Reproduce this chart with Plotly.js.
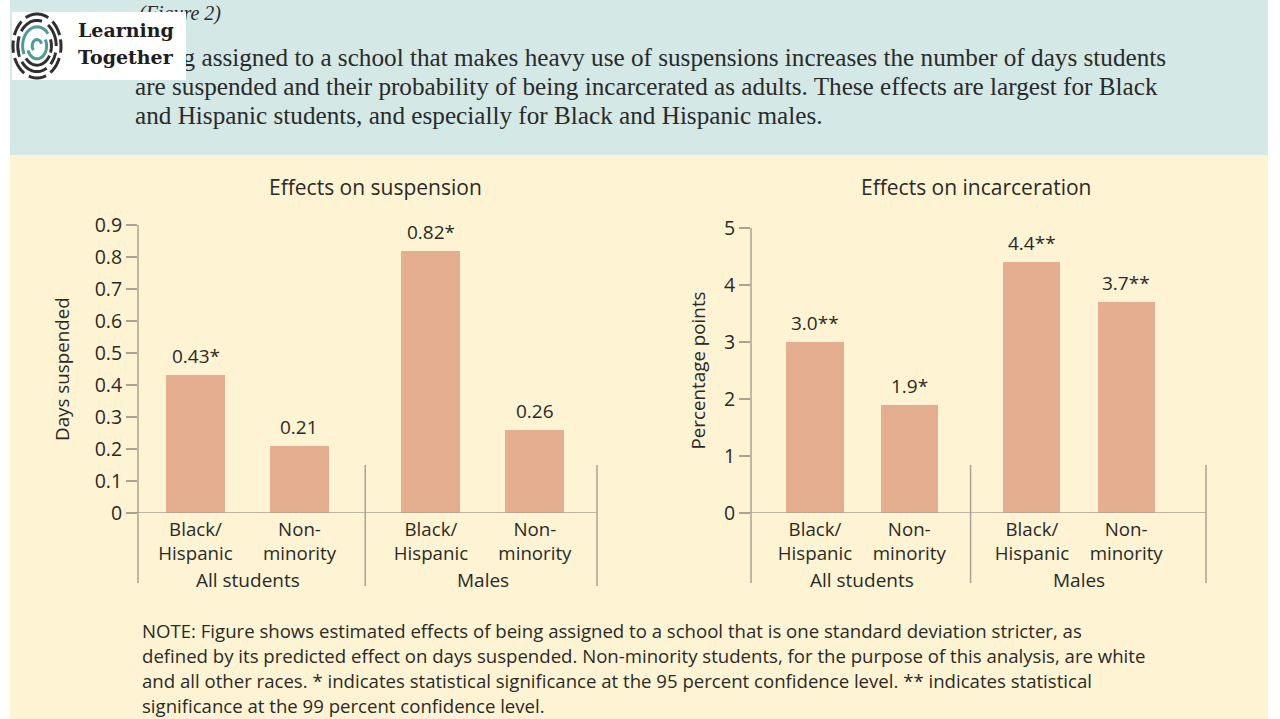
<!DOCTYPE html>
<html><head><meta charset="utf-8">
<script src="https://cdn.plot.ly/plotly-3.0.1.min.js"></script>
<style>html,body{margin:0;padding:0;background:#fff;} #chart{width:1280px;height:719px;}</style>
</head><body><div id="chart"></div>
<script>
// ---------- data ----------
const groups = ["All students", "Males"];
const subgroups = ["Black/<br>Hispanic", "Non-<br>minority"];
const suspensionValues = [0.43, 0.21, 0.82, 0.26];
const suspensionLabels = ["0.43*", "0.21", "0.82*", "0.26"];
const incarcerationValues = [3.0, 1.9, 4.4, 3.7];
const incarcerationLabels = ["3.0**", "1.9*", "4.4**", "3.7**"];
const suspensionTicks = [0, 0.1, 0.2, 0.3, 0.4, 0.5, 0.6, 0.7, 0.8, 0.9];
const suspensionTickText = ["0", "0.1", "0.2", "0.3", "0.4", "0.5", "0.6", "0.7", "0.8", "0.9"];
const incarcerationTicks = [0, 1, 2, 3, 4, 5];
const incarcerationTickText = ["0", "1", "2", "3", "4", "5"];
const chartTitles = ["Effects on suspension", "Effects on incarceration"];
const yTitles = ["Days suspended", "Percentage points"];
const headerFigure = "(Figure 2)";
const headerLines = [
  "Being assigned to a school that makes heavy use of suspensions increases the number of days students",
  "are suspended and their probability of being incarcerated as adults. These effects are largest for Black",
  "and Hispanic students, and especially for Black and Hispanic males."
];
const noteLines = [
  "NOTE: Figure shows estimated effects of being assigned to a school that is one standard deviation stricter, as",
  "defined by its predicted effect on days suspended. Non-minority students, for the purpose of this analysis, are white",
  "and all other races. * indicates statistical significance at the 95 percent confidence level. ** indicates statistical",
  "significance at the 99 percent confidence level."
];
const logoLines = ["Learning", "Together"];

// ---------- layout helpers ----------
const W = 1280, H = 719;
const px = v => v / W;
const py = v => 1 - v / H;
const SANS = "'Open Sans', Roboto, sans-serif";
const SERIF = "'Liberation Serif', 'DejaVu Serif', serif";
const LOGOSERIF = "'DejaVu Serif', serif";
const TXT = "#2b2926";
const AX = "#a9a393";
const BAR = "#e6ae90";

const charts = [
  {xa: "x", ya: "y", G: 2.264, range: [-0.553, 3.861], bw: 0.567, dom: [138, 597], ydom: [513, 225],
   yr: [0, 0.9], vals: suspensionValues, labels: suspensionLabels, ticks: suspensionTicks, tickText: suspensionTickText,
   tickLeft: 127, axisBottom: 583, divTop: 465, divBottom: 586, titleX: 375, yTitleX: 62},
  {xa: "x2", ya: "y2", G: 2.302, range: [-0.679, 4.149], bw: 0.605, dom: [751, 1206], ydom: [513, 228],
   yr: [0, 5], vals: incarcerationValues, labels: incarcerationLabels, ticks: incarcerationTicks, tickText: incarcerationTickText,
   tickLeft: 740, axisBottom: 583, divTop: 465, divBottom: 583, titleX: 976, yTitleX: 697}
];

const traces = [];
const shapes = [];
const annotations = [];
const layout = {
  width: W, height: H, margin: {l: 0, r: 0, t: 0, b: 0},
  paper_bgcolor: "#ffffff", plot_bgcolor: "rgba(0,0,0,0)",
  showlegend: false, font: {family: SANS, color: TXT},
  bargap: 0
};

// backgrounds
shapes.push({type: "rect", xref: "paper", yref: "paper", x0: px(10), x1: px(1268), y0: py(0), y1: py(155),
  fillcolor: "#d4e8e5", line: {width: 0}, layer: "below"});
shapes.push({type: "rect", xref: "paper", yref: "paper", x0: px(10), x1: px(1268), y0: py(155), y1: py(719),
  fillcolor: "#fef4d4", line: {width: 0}, layer: "below"});

charts.forEach((c, ci) => {
  const xs = c.vals.map((v, i) => Math.floor(i / subgroups.length) * c.G + (i % subgroups.length));
  const ticktext = c.vals.map((v, i) => subgroups[i % subgroups.length]);
  traces.push({type: "bar", x: xs, y: c.vals, xaxis: c.xa, yaxis: c.ya, width: c.bw,
    marker: {color: BAR, line: {width: 0}}, hoverinfo: "skip"});
  const xk = c.xa === "x" ? "xaxis" : "xaxis2";
  const yk = c.ya === "y" ? "yaxis" : "yaxis2";
  layout[xk] = {domain: [px(c.dom[0]), px(c.dom[1])], range: c.range, anchor: c.ya,
    showgrid: false, zeroline: false, showline: false, ticks: "", tickmode: "array", ticklabelstandoff: 3,
    tickvals: xs, ticktext: ticktext, tickfont: {size: 18.7, color: TXT, family: SANS}, fixedrange: true};
  layout[yk] = {domain: [py(c.ydom[0]), py(c.ydom[1])], range: c.yr, anchor: c.xa,
    showgrid: false, zeroline: false, showline: false, ticks: "outside", ticklen: 11, tickwidth: 1.5,
    tickcolor: AX, tickmode: "array", tickvals: c.ticks, ticktext: c.tickText,
    tickfont: {size: 19.5, color: TXT, family: SANS}, fixedrange: true};
  // y axis line (extends below zero)
  shapes.push({type: "line", xref: "paper", yref: "paper", x0: px(c.dom[0]), x1: px(c.dom[0]),
    y0: py(c.axisBottom), y1: py(c.ydom[1]), line: {color: AX, width: 1.5}});
  // baseline at zero
  shapes.push({type: "line", xref: "paper", yref: c.ya, x0: px(c.tickLeft), x1: px(c.dom[1]),
    y0: 0, y1: 0, line: {color: AX, width: 1.5}});
  // group dividers
  const mid = (1 + c.G) / 2;
  shapes.push({type: "line", xref: c.xa, yref: "paper", x0: mid, x1: mid,
    y0: py(c.divBottom), y1: py(c.divTop), line: {color: AX, width: 1.5}});
  shapes.push({type: "line", xref: "paper", yref: "paper", x0: px(c.dom[1]), x1: px(c.dom[1]),
    y0: py(c.divBottom), y1: py(c.divTop), line: {color: AX, width: 1.5}});
  // value labels
  c.vals.forEach((v, i) => {
    annotations.push({xref: c.xa, yref: c.ya, x: xs[i], y: v, text: c.labels[i], showarrow: false,
      xanchor: "center", yanchor: "bottom", yshift: 4, font: {size: 19, color: TXT, family: SANS}});
  });
  // group labels
  groups.forEach((g, gi) => {
    annotations.push({xref: c.xa, yref: "paper", x: gi * c.G + 0.5, y: py(580), text: g, showarrow: false,
      xanchor: "center", yanchor: "middle", font: {size: 19, color: TXT, family: SANS}});
  });
  // chart title
  annotations.push({xref: "paper", yref: "paper", x: px(c.titleX), y: py(187), text: chartTitles[ci],
    showarrow: false, xanchor: "center", yanchor: "middle", font: {size: 21, color: TXT, family: SANS}});
  // y title
  annotations.push({xref: "paper", yref: c.ya + " domain", x: px(c.yTitleX), y: 0.5, text: yTitles[ci],
    textangle: -90, showarrow: false, xanchor: "center", yanchor: "middle", font: {size: 18.8, color: TXT, family: SANS}});
});

// full-figure overlay axis for header text (drawn under the logo box)
layout.xaxis3 = {domain: [0, 1], range: [0, W], visible: false, fixedrange: true, anchor: "y3"};
layout.yaxis3 = {domain: [0, 1], range: [H, 0], visible: false, fixedrange: true, anchor: "x3"};
traces.push({type: "scatter", mode: "text", xaxis: "x3", yaxis: "y3", hoverinfo: "skip",
  x: [139], y: [15], text: ["<i>" + headerFigure + "</i>"],
  textposition: "middle right", textfont: {family: SERIF, size: 20, color: "#2a2a2a"}, cliponaxis: false});
traces.push({type: "scatter", mode: "text", xaxis: "x3", yaxis: "y3", hoverinfo: "skip",
  x: [135, 135, 135], y: [60, 89, 118], text: headerLines,
  textposition: "middle right", textfont: {family: SERIF, size: 25.2, color: "#2a2a2a"}, cliponaxis: false});

// note lines
noteLines.forEach((t, i) => {
  annotations.push({xref: "paper", yref: "paper", x: px(140), y: py(630 + i * 25.3), text: t, showarrow: false,
    xanchor: "left", yanchor: "middle", font: {size: 18.6, color: TXT, family: SANS}});
});

// logo box + icon
shapes.push({type: "rect", xref: "paper", yref: "paper", x0: px(12), x1: px(186), y0: py(80), y1: py(12),
  fillcolor: "#ffffff", line: {width: 0}, layer: "above"});
const icx = 37, icy = 46, irx = 24, iry = 32;
const DK = "#2f2f2f", TL = "#4e9c97";
const arcs = [
  [1.0, 62, 118, DK], [1.0, 130, 160, DK], [1.0, 170, 192, DK], [1.0, 202, 238, DK],
  [1.0, 250, 292, DK], [1.0, 304, 338, DK], [1.0, 348, 372, DK], [1.0, 20, 50, DK],
  [0.8, 75, 145, DK], [0.8, 158, 205, DK], [0.8, 218, 300, DK], [0.8, 315, 345, DK], [0.8, 0, 55, DK],
  [0.6, 40, 205, TL], [0.6, 220, 330, DK], [0.6, 340, 380, DK],
  [0.4, 200, 390, TL], [0.2, 20, 220, TL]
];
arcs.forEach(a => {
  const [r, s, e, col] = a;
  let d = "";
  for (let k = 0; k <= 20; k++) {
    const ang = (s + (e - s) * k / 20) * Math.PI / 180;
    const X = icx + irx * r * Math.cos(ang), Y = icy - iry * r * Math.sin(ang);
    d += (k === 0 ? "M " : " L ") + px(X).toFixed(5) + "," + py(Y).toFixed(5);
  }
  shapes.push({type: "path", xref: "paper", yref: "paper", path: d, line: {color: col, width: 3}, layer: "above"});
});
logoLines.forEach((t, i) => {
  annotations.push({xref: "paper", yref: "paper", x: px(76), y: py(30 + i * 27), text: t, showarrow: false,
    xanchor: "left", yanchor: "middle", font: {size: 19, color: "#1e1e1e", family: LOGOSERIF, weight: "bold"}});
});

layout.shapes = shapes;
layout.annotations = annotations;
Plotly.newPlot("chart", traces, layout, {displayModeBar: false, staticPlot: true});
</script>
</body></html>
